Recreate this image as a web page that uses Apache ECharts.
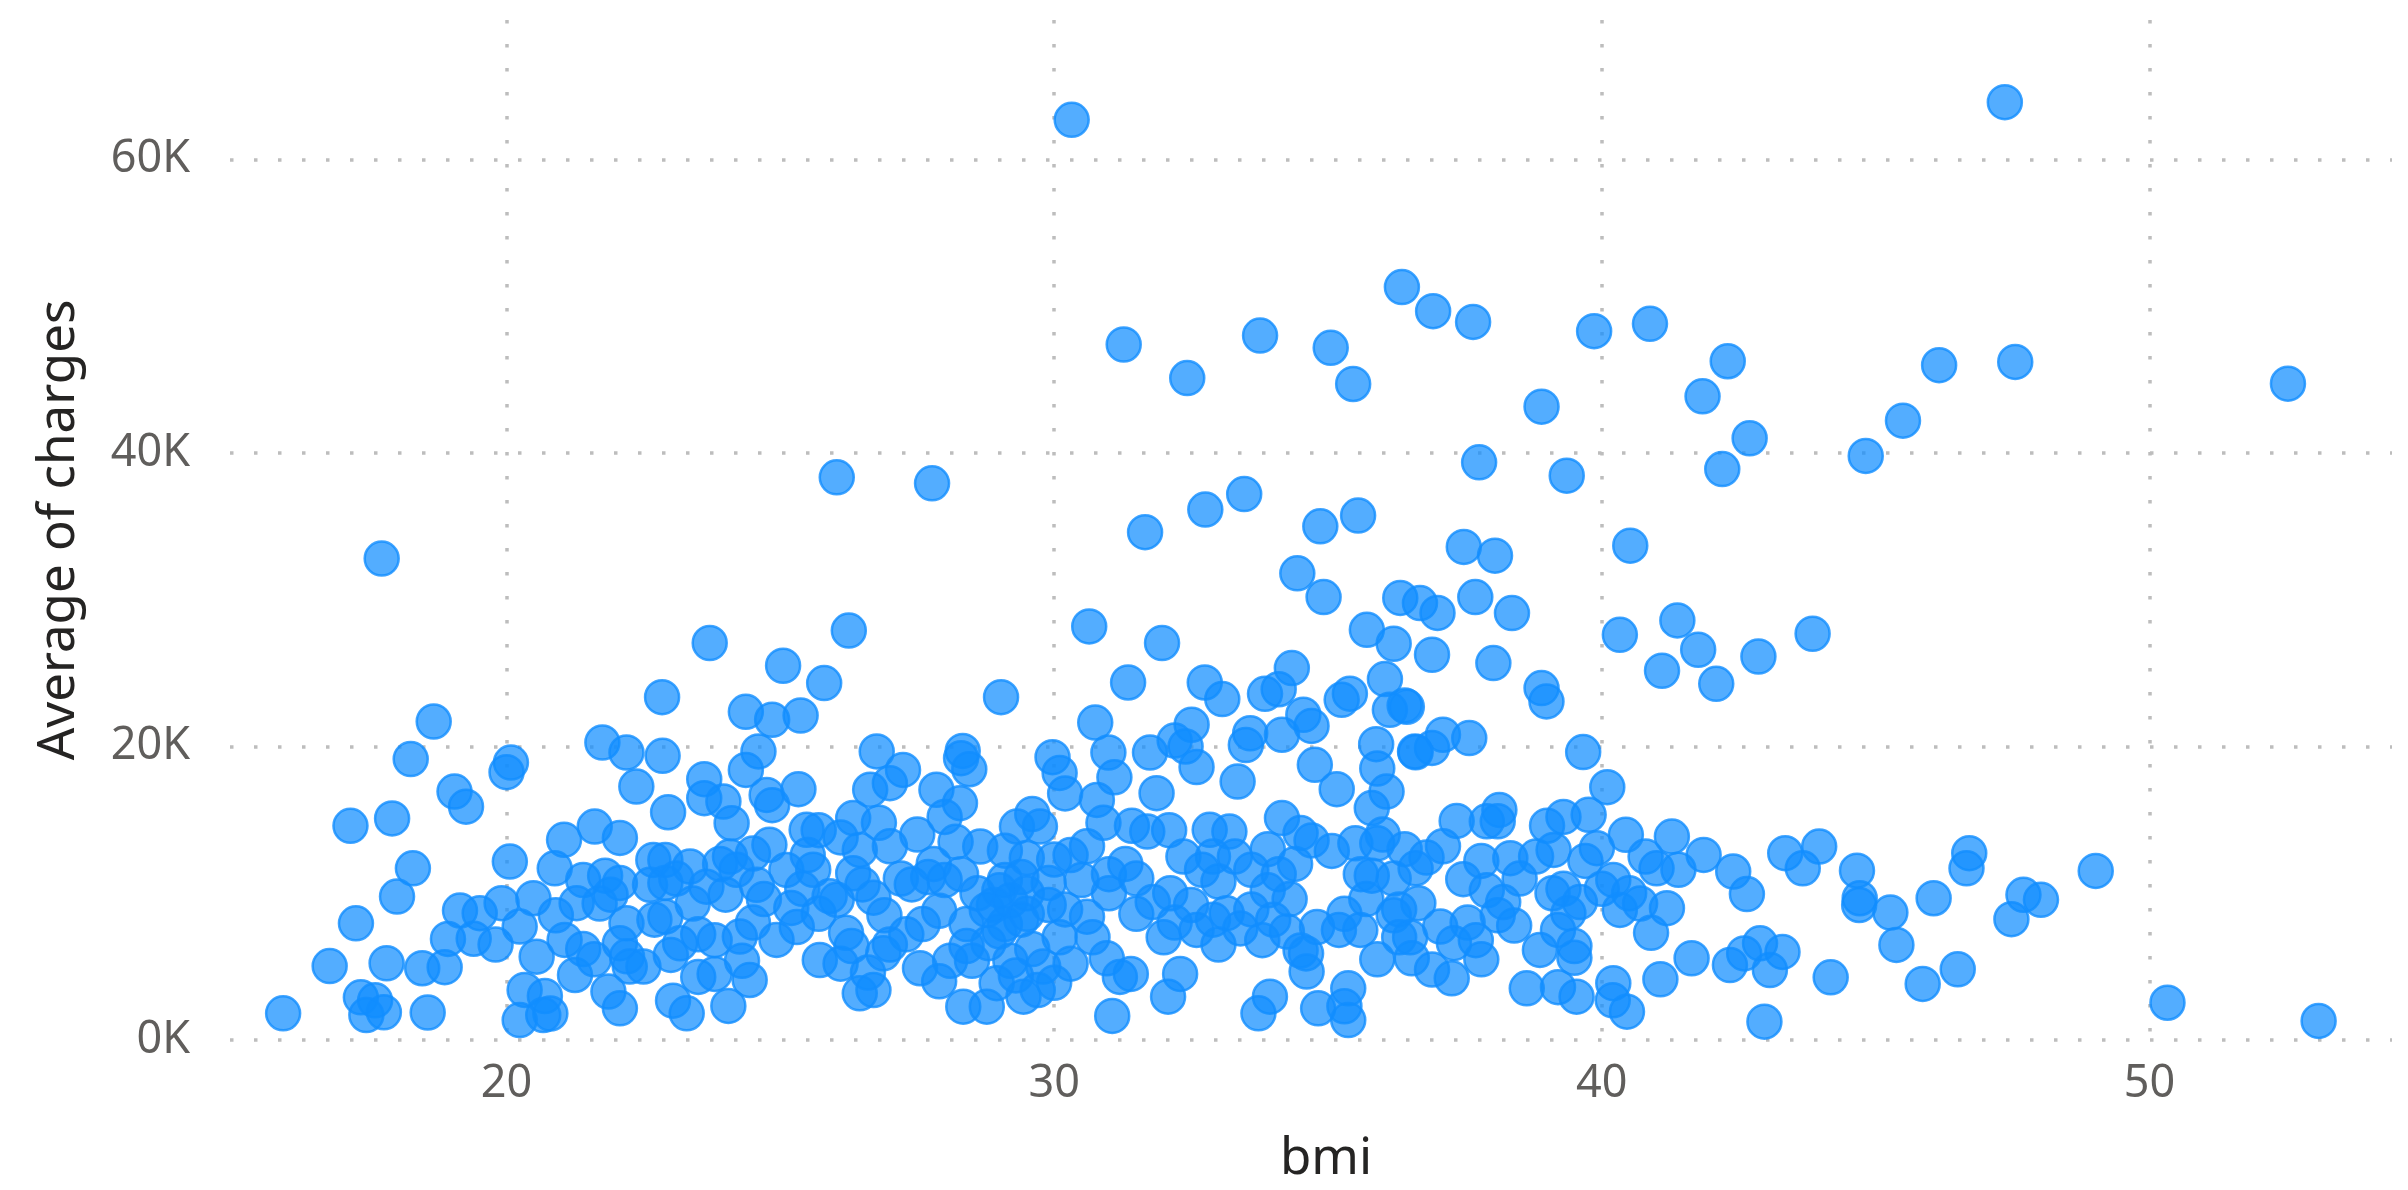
<!DOCTYPE html>
<html>
<head>
<meta charset="utf-8">
<title>Average of charges by bmi</title>
<script src="https://cdn.jsdelivr.net/npm/echarts@6/dist/echarts.min.js"></script>
<style>
  html, body { margin: 0; padding: 0; background: #ffffff; }
  #chart { width: 2408px; height: 1190px; }
</style>
</head>
<body>
<div id="chart"></div>
<script>
// Each entry: [bmi, average of charges in USD]
const highCharges = [
  [30.32, 62700], [47.36, 63900], [36.35, 51300], [36.92, 49660], [37.65, 48930],
  [39.86, 48300], [40.88, 48800], [33.76, 48000], [31.27, 47390], [35.05, 47160],
  [32.43, 45100], [35.46, 44700], [42.30, 46250], [46.16, 45980], [47.55, 46200],
  [52.53, 44720], [41.84, 43860], [38.90, 43150], [45.50, 42200], [42.70, 41000],
  [44.82, 39800], [37.76, 39360], [39.36, 38450], [42.20, 38900], [26.03, 38340],
  [27.77, 37930], [33.47, 37200], [32.76, 36140], [35.55, 35730], [34.86, 35000],
  [31.66, 34600], [40.52, 33680], [37.48, 33600], [38.05, 33000], [17.72, 32800],
  [34.44, 31800], [34.92, 30180], [36.32, 30120], [37.69, 30180]
];

const midCharges = [
  [38.36, 29090], [36.68, 29770], [37.00, 29100], [41.38, 28590], [30.64, 28180],
  [26.25, 27900], [35.71, 27950], [43.85, 27680], [40.33, 27610], [23.71, 27050],
  [31.97, 27050], [36.20, 27000], [41.76, 26590], [36.90, 26250], [42.86, 26130],
  [38.02, 25680], [25.05, 25500], [34.34, 25340], [41.10, 25160], [36.04, 24590],
  [31.35, 24360], [32.75, 24360], [25.80, 24320], [42.09, 24270], [38.90, 23980],
  [34.10, 23900], [33.85, 23590], [35.40, 23600], [22.84, 23360], [29.03, 23360],
  [33.07, 23230], [35.25, 23180], [38.99, 23070], [36.40, 22800], [36.44, 22700],
  [36.13, 22500], [24.37, 22360], [34.55, 22160], [25.37, 22110], [24.85, 21820],
  [18.67, 21700], [30.75, 21630], [32.51, 21480], [34.70, 21400], [33.58, 20900],
  [34.16, 20800], [37.10, 20800], [37.58, 20570], [32.20, 20400], [21.75, 20270],
  [32.40, 20000], [35.88, 20160], [33.50, 20100]
];

const upperBand = [
  [36.90, 19900], [36.59, 19660], [39.66, 19620], [22.19, 19590], [30.99, 19590],
  [31.75, 19590], [24.60, 19660], [26.76, 19660], [36.60, 19600], [28.33, 19700],
  [22.85, 19360], [29.97, 19270], [28.30, 19200], [18.25, 19140], [20.08, 18900],
  [34.76, 18750], [32.60, 18600], [35.90, 18500], [28.45, 18450], [24.37, 18400],
  [27.24, 18400], [20.00, 18250], [30.10, 18200], [31.10, 17900], [23.61, 17770],
  [33.35, 17610], [27.00, 17500], [22.37, 17270], [40.10, 17230], [35.16, 17090],
  [25.33, 17090], [26.64, 17050], [27.85, 17050], [19.05, 16930], [36.07, 16930],
  [31.87, 16820], [30.20, 16800], [24.75, 16700], [23.61, 16480], [30.78, 16360],
  [23.96, 16250], [28.28, 16140], [24.85, 16000], [19.26, 15900], [35.80, 15800],
  [38.13, 15680], [22.95, 15520], [29.60, 15400], [39.76, 15340], [39.30, 15200],
  [26.33, 15120], [34.16, 15120], [17.91, 15100], [37.35, 14930], [37.90, 14900],
  [38.10, 14900], [24.11, 14770], [17.15, 14590], [31.42, 14590], [39.00, 14600],
  [21.61, 14540], [29.32, 14540], [29.74, 14540], [25.48, 14320], [25.70, 14300],
  [32.84, 14320], [32.10, 14300], [31.70, 14200], [33.20, 14200], [34.50, 14100],
  [40.44, 13980], [41.28, 13860], [22.07, 13770], [21.05, 13640], [35.50, 13400],
  [35.90, 13400], [27.00, 13200], [28.65, 13180], [43.97, 13180], [39.91, 13070],
  [26.45, 12950], [39.12, 12950], [35.07, 12880], [46.71, 12730], [43.35, 12730],
  [24.50, 12700], [41.86, 12610], [24.08, 12500], [32.36, 12500], [32.90, 12500],
  [33.30, 12500], [38.80, 12500], [40.80, 12500], [36.80, 12430], [38.33, 12390],
  [30.00, 12300], [22.68, 12270], [22.90, 12270], [39.70, 12200], [20.06, 12160],
  [34.40, 12000], [23.35, 11820], [41.00, 11700], [18.29, 11700], [20.88, 11700],
  [43.67, 11700], [46.66, 11700], [36.60, 11700], [24.20, 11600], [25.11, 11590],
  [25.60, 11600], [41.40, 11600], [44.66, 11540], [49.02, 11520], [42.40, 11480],
  [26.33, 11360], [34.10, 11300], [35.60, 11300], [31.00, 11300], [28.30, 11300],
  [21.80, 11200], [35.80, 11200], [27.70, 11100], [29.40, 11100], [37.47, 10960],
  [21.40, 10900], [40.21, 10910], [30.50, 10900], [28.00, 10900], [29.10, 10900],
  [22.07, 10700], [22.90, 10700], [29.90, 10700], [22.62, 10570], [24.57, 10570],
  [26.50, 10600], [27.40, 10600], [23.65, 10450], [25.40, 10300], [39.30, 10300],
  [40.00, 10300], [33.90, 10200], [37.90, 10200]
];

const lowerBand = [
  [32.12, 10000], [31.00, 10000], [29.50, 10000], [39.10, 10000], [40.50, 10000],
  [42.65, 9940], [47.70, 9890], [18.00, 9770], [26.70, 9700], [20.49, 9660],
  [44.71, 9660], [46.06, 9660], [35.70, 9600], [26.03, 9550], [48.02, 9550],
  [21.28, 9320], [21.70, 9300], [19.91, 9320], [36.65, 9320], [44.70, 9200],
  [41.19, 8980], [33.60, 8900], [36.30, 8900], [28.77, 8860], [40.33, 8860],
  [19.15, 8820], [45.27, 8680], [19.51, 8640], [33.15, 8640], [39.39, 8640],
  [25.70, 8600], [29.50, 8600], [31.50, 8600], [36.20, 8500], [38.10, 8500],
  [30.60, 8400], [22.90, 8400], [47.48, 8230], [22.70, 8200], [32.90, 8200],
  [24.50, 8000], [32.20, 8000], [37.55, 8000], [22.19, 7950], [17.25, 7950],
  [29.10, 7900], [27.60, 7900], [28.40, 7900], [38.40, 7800], [20.24, 7730],
  [37.05, 7730], [25.30, 7700], [34.80, 7700], [35.59, 7500], [35.20, 7500],
  [32.60, 7500], [39.20, 7500], [34.25, 7390], [23.50, 7200], [27.30, 7200],
  [24.26, 7050], [32.00, 7000], [30.10, 7000], [30.70, 7000], [36.50, 7000],
  [36.30, 7000], [19.40, 6900], [18.93, 6890], [21.06, 6820], [24.93, 6820],
  [23.80, 6800], [37.70, 6800], [28.80, 6600], [23.17, 6590], [42.89, 6590],
  [37.30, 6600], [19.80, 6500], [45.38, 6480], [26.30, 6400], [39.50, 6400],
  [21.40, 6200], [38.87, 6140], [34.50, 6100], [22.07, 6600], [43.30, 6000],
  [42.60, 5900], [34.60, 5900], [26.88, 5910], [22.20, 5700], [20.55, 5680],
  [30.96, 5570], [36.53, 5570], [41.64, 5570], [39.50, 5600], [35.90, 5500],
  [25.72, 5450], [28.10, 5400], [29.20, 5400], [17.81, 5230], [26.10, 5200],
  [30.30, 5200], [42.34, 5110], [16.77, 5040], [22.25, 5000], [22.50, 5000],
  [18.87, 4960], [18.46, 4890], [27.55, 4890], [46.50, 4820], [43.07, 4770]
];

const lowestBand = [
  [34.61, 4660], [23.80, 4500], [31.40, 4500], [32.30, 4500], [21.25, 4430],
  [31.20, 4300], [23.50, 4300], [44.18, 4270], [37.26, 4200], [41.07, 4140],
  [24.44, 4090], [28.95, 3870], [40.21, 3870], [45.86, 3820], [39.20, 3600],
  [38.63, 3520], [35.37, 3520], [20.33, 3410], [26.70, 3400], [21.86, 3300],
  [26.45, 3180], [20.70, 3000], [17.34, 2910], [29.44, 2950], [32.08, 2950],
  [33.94, 2950], [39.54, 2950], [17.60, 2700], [23.04, 2680], [40.20, 2700],
  [50.33, 2540], [24.05, 2320], [35.30, 2300], [28.34, 2270], [28.77, 2270],
  [22.07, 2160], [34.82, 2160], [40.46, 1930], [17.76, 1890], [18.56, 1870],
  [15.92, 1820], [23.29, 1820], [33.73, 1820], [20.80, 1800], [17.44, 1700],
  [20.67, 1700], [31.06, 1640], [20.24, 1360], [35.37, 1360], [53.09, 1300],
  [42.97, 1250]
];

// Points lying inside the dense clusters
const clusterCharges = [
  [29.20, 9500], [29.40, 8200], [29.00, 10200], [29.60, 6200], [29.80, 5000],
  [29.30, 4400], [29.00, 7400], [28.90, 9200], [29.50, 12400], [29.90, 9200],
  [30.20, 8900], [30.00, 3900], [29.70, 3400], [30.30, 12600], [29.10, 12900],
  [28.60, 10000], [27.80, 12000], [28.20, 13500], [27.50, 14000], [28.00, 15200],
  [27.20, 11000], [26.90, 8500], [27.90, 8800], [28.40, 6400], [27.00, 6500],
  [26.20, 7300], [25.90, 9800], [25.20, 9000], [24.70, 9600], [24.00, 9900],
  [23.40, 9300], [23.10, 11000], [23.90, 12000], [24.80, 13300], [25.50, 12600],
  [26.10, 13800], [26.80, 14800], [33.00, 6500], [33.40, 7600], [33.80, 6800],
  [34.00, 8200], [32.50, 9200], [33.00, 10800], [33.60, 11600], [34.30, 9600],
  [35.30, 8600], [31.80, 9400], [31.30, 12000], [30.60, 13200], [31.50, 11000],
  [32.70, 11600], [30.90, 14800], [33.90, 13000], [34.70, 13600], [36.00, 14000],
  [36.40, 13000], [36.20, 11000], [37.10, 13200], [37.80, 12200], [38.50, 11000],
  [38.20, 9400], [39.60, 9400], [40.70, 9300], [40.90, 7300], [37.80, 5500],
  [36.90, 4800], [26.60, 4600], [27.90, 4000], [28.50, 5400], [24.30, 5400],
  [23.00, 5800], [21.60, 5500], [20.90, 8500], [21.90, 9900]
];

const bmiTicks = [20, 30, 40, 50];
const chargeTicks = [0, 20000, 40000, 60000];

const scatterData = [].concat(
  highCharges, midCharges, upperBand, lowerBand, lowestBand, clusterCharges
);

const chart = echarts.init(document.getElementById('chart'), null, { renderer: 'canvas' });

const gridDots = { color: '#bdbdbd', width: 3.5, type: [3.5, 20.5] };
const tickFont = { fontFamily: 'Noto Sans', fontSize: 45, color: '#605e5c' };
const titleFont = { fontFamily: 'Noto Sans', fontSize: 51, color: '#252423' };

chart.setOption({
  animation: false,
  backgroundColor: '#ffffff',
  grid: { left: 230, right: 16, top: 20, bottom: 150, containLabel: false },
  xAxis: {
    type: 'value',
    min: 14.95,
    max: 54.43,
    name: 'bmi',
    nameLocation: 'middle',
    nameGap: 94,
    nameTextStyle: Object.assign({}, titleFont, { padding: [0, 0, 0, 30] }),
    axisLine: { show: false },
    axisTick: { show: false, customValues: bmiTicks },
    axisLabel: Object.assign({}, tickFont, { margin: 22, customValues: bmiTicks }),
    splitLine: { show: true, lineStyle: gridDots }
  },
  yAxis: {
    type: 'value',
    min: 0,
    max: 69500,
    interval: 20000,
    name: 'Average of charges',
    nameLocation: 'middle',
    nameGap: 145,
    nameRotate: 90,
    nameTextStyle: Object.assign({}, titleFont, { padding: [0, 0, 0, 0] }),
    axisLine: { show: false },
    axisTick: { show: false, customValues: chargeTicks },
    axisLabel: Object.assign({}, tickFont, {
      margin: 40,
      customValues: chargeTicks,
      formatter: v => (v / 1000) + 'K'
    }),
    splitLine: { show: true, lineStyle: gridDots }
  },
  series: [{
    type: 'scatter',
    name: 'Average of charges',
    data: scatterData,
    clip: false,
    symbol: 'circle',
    symbolSize: 34,
    itemStyle: {
      color: 'rgba(17, 141, 255, 0.9)',
      borderColor: '#118dff',
      borderWidth: 2.5
    }
  }]
});
</script>
</body>
</html>
